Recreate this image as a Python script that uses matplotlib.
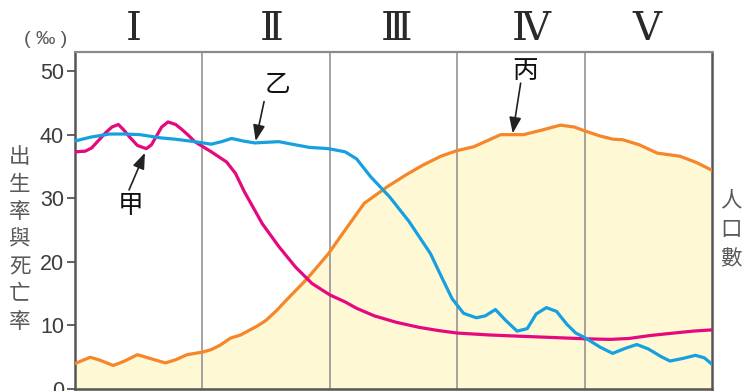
import matplotlib
matplotlib.use("Agg")
import matplotlib.pyplot as plt

W, H = 745, 391

# ---- data (x: stage position 0..5, y: per mille) ----
death_x = [0.00, 0.08, 0.13, 0.19, 0.24, 0.29, 0.34, 0.38, 0.43, 0.49, 0.56, 0.60, 0.64, 0.68,
           0.73, 0.79, 0.84, 0.89, 0.94,
           1.07, 1.19, 1.26, 1.33, 1.47, 1.60, 1.73, 1.86, 2.00, 2.12, 2.21, 2.35, 2.52, 2.70,
           2.85, 3.00, 3.25, 3.49, 3.75, 4.00, 4.20, 4.35, 4.51, 4.70, 4.85, 5.00]
death_y = [37.3, 37.4, 37.9, 39.2, 40.3, 41.2, 41.6, 40.8, 39.6, 38.3, 37.8, 38.4, 39.8, 41.2,
           42.0, 41.6, 40.8, 39.9, 38.9,
           37.3, 35.7, 33.9, 31.0, 26.0, 22.4, 19.2, 16.6, 14.8, 13.7, 12.7, 11.5, 10.5, 9.7,
           9.2, 8.8, 8.5, 8.3, 8.1, 7.9, 7.8, 7.95, 8.4, 8.8, 9.1, 9.3]

birth_x = [0.00, 0.12, 0.27, 0.39, 0.51, 0.67, 0.78, 0.94, 1.07, 1.15, 1.23, 1.32, 1.41, 1.60,
           1.73, 1.84, 1.99, 2.12, 2.21, 2.32, 2.47, 2.62, 2.79, 2.88, 2.96, 3.05, 3.15, 3.22,
           3.30, 3.38, 3.47, 3.55, 3.62, 3.70, 3.78, 3.86, 3.93, 4.00, 4.12, 4.22, 4.32, 4.41,
           4.50, 4.60, 4.67, 4.77, 4.87, 4.94, 5.00]
birth_y = [39.0, 39.6, 40.1, 40.1, 40.0, 39.5, 39.3, 38.9, 38.5, 38.9, 39.4, 39.0, 38.7, 38.9,
           38.4, 38.0, 37.8, 37.3, 36.2, 33.4, 30.2, 26.4, 21.3, 17.5, 14.2, 11.9, 11.2, 11.5,
           12.5, 10.8, 9.1, 9.5, 11.8, 12.8, 12.2, 10.2, 8.8, 8.1, 6.6, 5.6, 6.4, 7.0,
           6.3, 5.1, 4.4, 4.8, 5.3, 4.9, 3.9]

pop_x = [0.00, 0.12, 0.20, 0.30, 0.39, 0.49, 0.59, 0.71, 0.79, 0.88, 1.00, 1.07, 1.14, 1.22,
         1.30, 1.43, 1.50, 1.58, 1.66, 1.82, 1.99, 2.12, 2.27, 2.45, 2.60, 2.73, 2.87, 3.00,
         3.13, 3.23, 3.34, 3.52, 3.66, 3.81, 3.92, 4.00, 4.12, 4.22, 4.30, 4.43, 4.57, 4.75,
         4.88, 5.00]
pop_y = [4.0, 5.0, 4.5, 3.7, 4.4, 5.4, 4.8, 4.1, 4.6, 5.4, 5.8, 6.2, 6.9, 8.0,
         8.5, 9.9, 10.8, 12.3, 14.0, 17.3, 21.3, 25.0, 29.2, 31.8, 33.7, 35.2, 36.6, 37.5,
         38.1, 39.0, 40.0, 40.0, 40.7, 41.5, 41.2, 40.6, 39.8, 39.3, 39.2, 38.4, 37.1, 36.6,
         35.6, 34.4]

stages = ["Ⅰ", "Ⅱ", "Ⅲ", "Ⅳ", "Ⅴ"]
yticks = [0, 10, 20, 30, 40, 50]
ylabel_chars = list("出生率與死亡率")
rlabel_chars = list("人口數")

# ---- figure ----
fig = plt.figure(figsize=(W / 100, H / 100), dpi=100)
fig.patch.set_facecolor("white")
left, right, top, bottom = 75, 712, 52, 389
ax = fig.add_axes([left / W, 1 - bottom / H, (right - left) / W, (bottom - top) / H])
ax.set_xlim(0, 5)
ax.set_ylim(0, 53)

ax.fill_between(pop_x, 0, pop_y, color="#FEF8D5", zorder=1, lw=0)
for xv in [1, 2, 3, 4]:
    ax.axvline(xv, color="#9c9c9c", lw=1.3, zorder=2)

ax.plot(pop_x, pop_y, color="#F5862A", lw=2.3, zorder=3, solid_joinstyle="round")
ax.plot(death_x, death_y, color="#E5087E", lw=2.3, zorder=4, solid_joinstyle="round")
ax.plot(birth_x, birth_y, color="#17A0E0", lw=2.3, zorder=5, solid_joinstyle="round")

ax.set_xticks([])
ax.set_yticks(yticks)
ax.set_yticklabels([str(t) for t in yticks], fontsize=15.5, color="#3c3c3c",
                   family="Liberation Sans")
ax.tick_params(axis="y", direction="out", length=6, width=1.3, color="#555555", pad=2)
for s in ["left", "bottom", "right"]:
    ax.spines[s].set_color("#555555")
    ax.spines[s].set_linewidth(1.8)
ax.spines["top"].set_color("#8a8a8a")
ax.spines["top"].set_linewidth(1.6)

# stage numerals
stage_px = [134, 272, 397, 531, 647]
for lab, px in zip(stages, stage_px):
    fig.text(px / W, 1 - 30 / H, lab, fontsize=29, ha="center", va="center",
             color="#2a2a2a", family=["DejaVu Serif", "Noto Sans CJK TC"])

fig.text(46 / W, 1 - 39 / H, "( ‰ )", fontsize=14, ha="center", va="center",
         color="#555555", family=["Liberation Sans", "DejaVu Sans"])

for i, ch in enumerate(ylabel_chars):
    fig.text(20 / W, 1 - (157 + 27.5 * i) / H, ch, fontsize=15.5, ha="center", va="center",
             color="#5a5a5a", family=["Noto Sans CJK TC"])
for i, ch in enumerate(rlabel_chars):
    fig.text(731 / W, 1 - (200 + 29.5 * i) / H, ch, fontsize=15.5, ha="center", va="center",
             color="#5a5a5a", family=["Noto Sans CJK TC"])

# annotations
ann_font = dict(fontsize=18.5, ha="center", va="center", color="#111111",
                family=["Noto Sans CJK TC"])
arrow = dict(arrowstyle="-|>,head_length=0.8,head_width=0.3", color="#222222", lw=1.2,
             shrinkA=0, shrinkB=0, mutation_scale=12)
ax.annotate("", xy=(0.549, 37.15), xytext=(0.424, 31.3), arrowprops=arrow, zorder=6)
ax.text(0.44, (389 - 206) / 6.36, "甲", **ann_font)
ax.annotate("", xy=(1.418, 39.0), xytext=(1.484, 45.2), arrowprops=arrow, zorder=6)
ax.text(1.593, (389 - 85) / 6.36, "乙", **ann_font)
ax.annotate("", xy=(3.436, 40.2), xytext=(3.498, 48.1), arrowprops=arrow, zorder=6)
ax.text(3.532, (389 - 71) / 6.36, "丙", **ann_font)
for t in ax.texts:
    t.set_clip_on(False)

fig.savefig("out.png", dpi=100, facecolor="white")
